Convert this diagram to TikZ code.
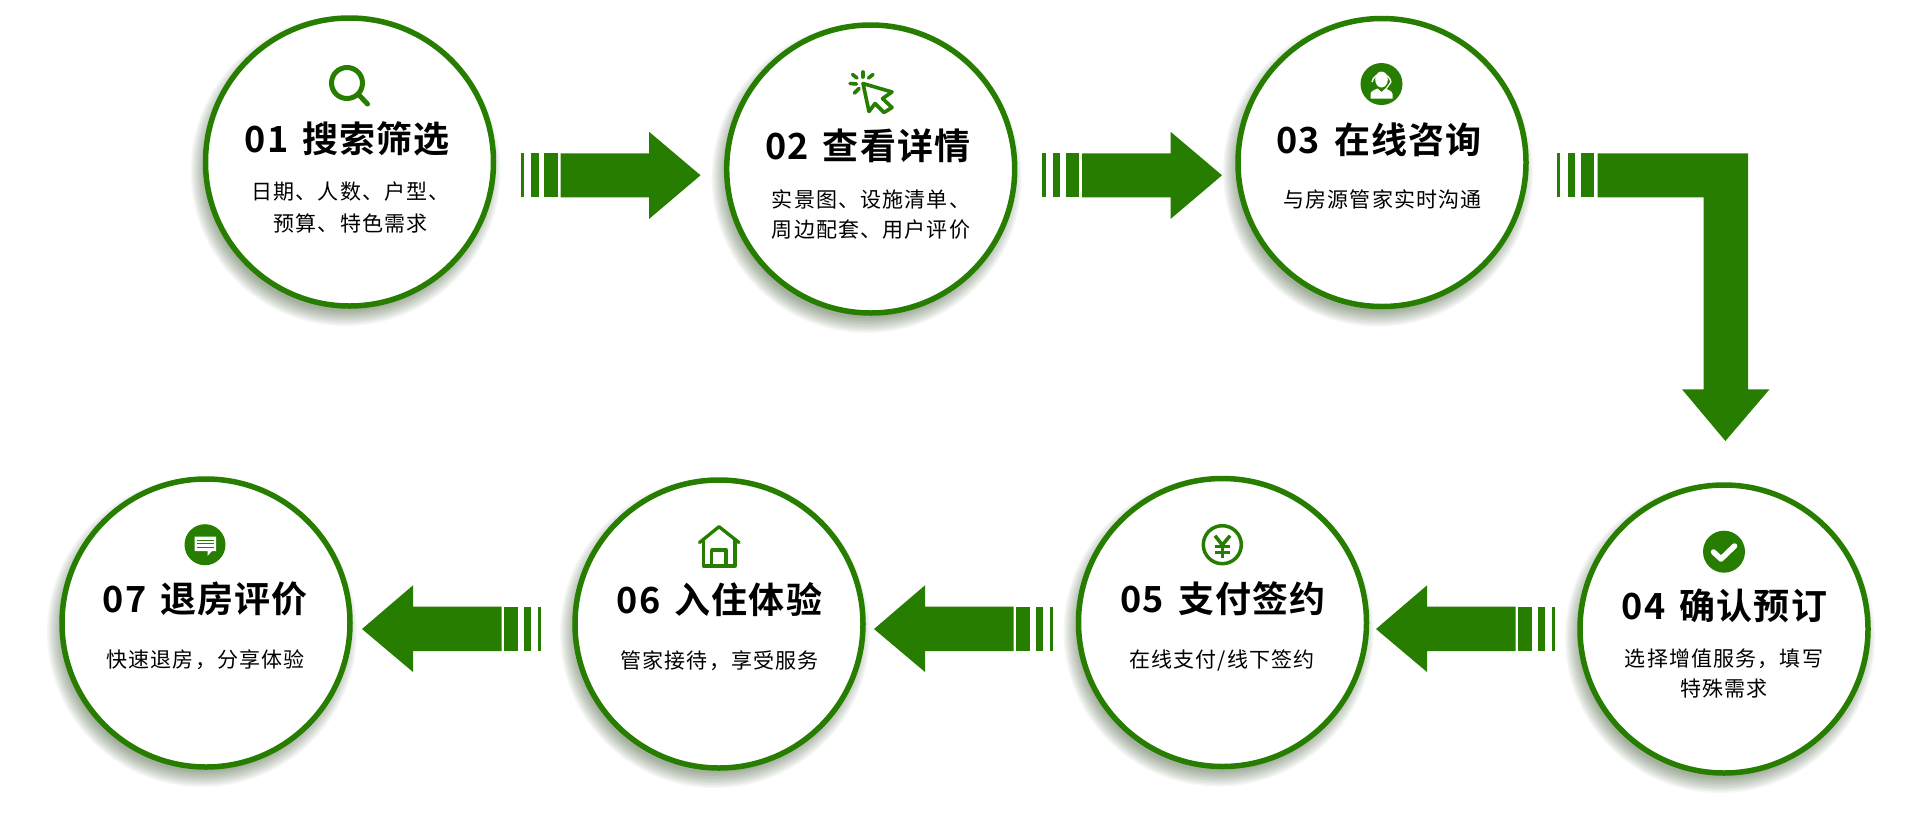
\documentclass[tikz,border=0pt]{standalone}
\usepackage{fontspec}
\setmainfont{Noto Sans CJK SC}
\newfontfamily\titlefont[LetterSpace=3,BoldFont={Noto Sans CJK SC Bold}]{Noto Sans CJK SC}
\newfontfamily\bodyfont[LetterSpace=5.5]{Noto Sans CJK SC}
\definecolor{brand}{HTML}{267D00}
\tikzset{
  ring/.style={circle,draw=brand,line width=5.5pt,fill=white,minimum size=288pt,inner sep=0pt},
  titletext/.style={font=\titlefont\fontsize{36}{42}\selectfont\bfseries,text=black,inner sep=0pt,anchor=center},
  bodytext/.style={font=\bodyfont\fontsize{21}{25}\selectfont,text=black,inner sep=0pt,anchor=center},
  lineg/.style={draw=brand,line width=#1,line cap=round,line join=round}
}
% soft shadow: stacked translucent discs, offset down-left
\newcommand{\softshadow}[2]{%
  \foreach \rr in {155,153.5,...,139}{\fill[black!60!brand,opacity=0.04] (#1-4,#2+9) circle[radius=\rr];}%
}
\newcommand{\stepnode}[7]{%
  \softshadow{#2}{#3}
  \node[ring] (#1) at (#2,#3) {};
  \node[titletext] (#1t) at (#4,#5) {#6};
  #7
}
\newcommand{\gap}{\hspace{5pt}}
\begin{document}
\begin{tikzpicture}[x=1pt,y=-1pt]
\useasboundingbox (0,0) rectangle (1920,820);
\fill[white] (0,0) rectangle (1920,820);

% circles ---------------------------------------------------
\stepnode{s1}{349.5}{162}{347.5}{138.5}{01 \gap 搜索筛选}{
  \node[bodytext] (s1a) at (350.5,192) {日期、人数、户型、};
  \node[bodytext] (s1b) at (350.5,223) {预算、特色需求};}
\stepnode{s2}{870.7}{169}{867.7}{145.5}{02 \gap 查看详情}{
  \node[bodytext] (s2a) at (871,199) {实景图、设施清单、};
  \node[bodytext] (s2b) at (871,229.5) {周边配套、用户评价};}
\stepnode{s3}{1382}{162.5}{1379}{139.5}{03 \gap 在线咨询}{
  \node[bodytext] (s3a) at (1382.5,199) {与房源管家实时沟通};}
\stepnode{s4}{1724}{629}{1724.5}{605.5}{04 \gap 确认预订}{
  \node[bodytext] (s4a) at (1724,659) {选择增值服务，填写};
  \node[bodytext] (s4b) at (1724,689) {特殊需求};}
\stepnode{s5}{1222.5}{622.5}{1223}{599}{05 \gap 支付签约}{
  \node[bodytext] (s5a) at (1222,660) {在线支付/线下签约};}
\stepnode{s6}{719}{624}{719.5}{600}{06 \gap 入住体验}{
  \node[bodytext] (s6a) at (719.5,661) {管家接待，享受服务};}
\stepnode{s7}{206}{623}{205.5}{599}{07 \gap 退房评价}{
  \node[bodytext] (s7a) at (205.5,660) {快速退房，分享体验};}

% arrows ----------------------------------------------------
\foreach \dx in {0,521.5}{
  \begin{scope}[xshift=\dx pt]
    \fill[brand] (520.6,153.3) rectangle (524,197.3);
    \fill[brand] (531.4,153.3) rectangle (538.5,197.3);
    \fill[brand] (544,153.3) rectangle (557.8,197.3);
    \fill[brand] (560.5,153.3) -- (649,153.3) -- (649,131.7) -- (700.5,175.3) -- (649,219) -- (649,197.3) -- (560.5,197.3) -- cycle;
  \end{scope}
}
\fill[brand] (1557,153.3) rectangle (1560.4,197.3);
\fill[brand] (1567.5,153.3) rectangle (1574.6,197.3);
\fill[brand] (1580.7,153.3) rectangle (1594,197.3);
\fill[brand] (1597.5,153.3) -- (1748,153.3) -- (1748,389.3) -- (1769.5,389.3) -- (1725.4,441) -- (1682,389.3) -- (1703.6,389.3) -- (1703.6,197.3) -- (1597.5,197.3) -- cycle;
\foreach \dx in {0,-502,-1014}{
  \begin{scope}[xshift=\dx pt]
    \fill[brand] (1552,606.7) rectangle (1555.4,651);
    \fill[brand] (1538,606.7) rectangle (1545,651);
    \fill[brand] (1518,606.7) rectangle (1532.4,651);
    \fill[brand] (1515.5,606.7) -- (1427,606.7) -- (1427,585.3) -- (1376,629) -- (1427,672) -- (1427,651) -- (1515.5,651) -- cycle;
  \end{scope}
}

% icons -----------------------------------------------------
% 01 magnifier
\draw[lineg=5pt] (347,83) circle[radius=15.5];
\draw[lineg=5pt] (358.5,94.5) -- (367.5,104);
% 02 cursor
\draw[lineg=3.6pt] (863,83.5) -- (892,92) -- (882.5,98.5) -- (892,107.5) -- (884,112.5) -- (875,103.5) -- (869,111.5) -- cycle;
\draw[lineg=3.6pt] (863,72) -- (863,77);
\draw[lineg=3.6pt] (868.5,78) -- (873,74.5);
\draw[lineg=3.6pt] (857,78) -- (852.5,74.5);
\draw[lineg=3.6pt] (850,83.5) -- (856.5,84);
\draw[lineg=3.6pt] (854.5,93) -- (859,88.5);
% 03 agent
\fill[brand] (1381.5,84) circle[radius=21];
\fill[white] (1381.5,79.5) ellipse[x radius=6.3,y radius=8];
\draw[white,line width=1.4pt] (1372,82) arc[start angle=190,end angle=350,radius=9.6];
\draw[white,line width=1.2pt] (1391,82) -- (1386,89);
\fill[white] (1370.5,98.5) -- (1370.5,94) .. controls (1371,90.5) and (1375,90) .. (1377.5,88.5) -- (1381.5,92) -- (1385.5,88.5) .. controls (1388,90) and (1392,90.5) .. (1392.5,94) -- (1392.5,98.5) -- cycle;
% 04 check
\fill[brand] (1724,551.7) circle[radius=21];
\draw[white,line width=5.5pt,line cap=round,line join=round] (1713.5,552) -- (1721,559) -- (1734.5,546);
% 05 yen
\draw[brand,line width=3.5pt] (1222.3,544.7) circle[radius=19];
\draw[brand,line width=3.5pt] (1215,535.7) -- (1222.3,545) -- (1230,535.7);
\draw[brand,line width=3.5pt] (1222.3,545) -- (1222.3,557.7);
\draw[brand,line width=3pt] (1215,546) -- (1229.6,546);
\draw[brand,line width=3pt] (1215,552) -- (1229.6,552);
% 06 house
\draw[lineg=3.3pt] (699.5,542.5) -- (719,526.7) -- (739,542.5);
\draw[lineg=3.3pt] (703.5,540) -- (703.5,566) -- (735,566) -- (735,540);
\draw[lineg=3.3pt] (711.7,566) -- (711.7,550) -- (726,550) -- (726,566);
% 07 speech bubble
\fill[brand] (205,544.7) circle[radius=20.5];
\fill[white] (194.5,536.5) -- (216,536.5) -- (216,551) -- (212,551) -- (207.5,556) -- (207.5,551) -- (194.5,551) -- cycle;
\fill[brand] (197,539.5) rectangle (213.5,540.9);
\fill[brand] (197,543) rectangle (213.5,544.4);
\fill[brand] (197,546.5) rectangle (213.5,547.9);
\end{tikzpicture}
\end{document}
